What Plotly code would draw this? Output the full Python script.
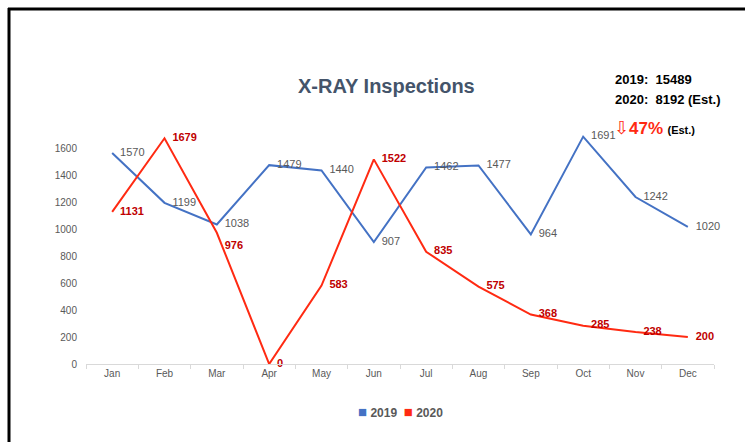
import plotly.graph_objects as go

months = ["Jan", "Feb", "Mar", "Apr", "May", "Jun", "Jul", "Aug", "Sep", "Oct", "Nov", "Dec"]
y2019 = [1570, 1199, 1038, 1479, 1440, 907, 1462, 1477, 964, 1691, 1242, 1020]
y2020 = [1131, 1679, 976, 0, 583, 1522, 835, 575, 368, 285, 238, 200]
ytick_vals = [0, 200, 400, 600, 800, 1000, 1200, 1400, 1600]
series_names = ["2019", "2020"]

BLUE = "#4472C4"
RED = "#FF2A12"
DARKRED = "#C00000"
GREY = "#595959"
FONT = "Liberation Sans, Arial, sans-serif"

pos2020 = ["middle right"] * len(months)
pos2020[2] = "bottom right"

fig = go.Figure()
fig.add_trace(go.Scatter(
    x=months, y=y2019, mode="lines+markers+text", name=series_names[0],
    line=dict(color=BLUE, width=2), marker=dict(size=11, opacity=0, color=BLUE),
    text=[str(v) for v in y2019],
    textposition="middle right", textfont=dict(color=GREY, size=11, family=FONT),
    showlegend=False, cliponaxis=False, hoverinfo="x+y"))
fig.add_trace(go.Scatter(
    x=months, y=y2020, mode="lines+markers+text", name=series_names[1],
    line=dict(color=RED, width=2), marker=dict(size=11, opacity=0, color=RED),
    text=["<b>%d</b>" % v for v in y2020],
    textposition=pos2020, textfont=dict(color=DARKRED, size=11, family=FONT),
    showlegend=False, cliponaxis=False, hoverinfo="x+y"))

W, H = 745, 442
L, R, T, B = 86, 31, 122, 78
pw, ph = W - L - R, H - T - B

def px(x):
    return (x - L) / pw

def py(y):
    return (H - B - y) / ph

fig.update_layout(
    width=W, height=H,
    margin=dict(l=L, r=R, t=T, b=B, autoexpand=False),
    paper_bgcolor="white", plot_bgcolor="white",
    font=dict(family=FONT, color=GREY),
    xaxis=dict(type="category", range=[-0.5, 11.5], showgrid=False, showline=True,
               linecolor="#D9D9D9", ticks="outside", ticklen=4, tickcolor="#D9D9D9",
               tickson="boundaries", tickfont=dict(size=10, color=GREY), fixedrange=True),
    yaxis=dict(range=[0, 1800], tickvals=ytick_vals, showgrid=False, zeroline=False,
               showline=False, tickfont=dict(size=10, color=GREY), ticklabelstandoff=8,
               fixedrange=True),
    showlegend=False,
)

# legend (square swatches)
fig.add_annotation(
    text=("<span style='color:%s;font-size:15px'>■</span> <b>%s</b>  "
          "<span style='color:%s;font-size:15px'>■</span> <b>%s</b>")
    % (BLUE, series_names[0], RED, series_names[1]),
    xref="paper", yref="paper", x=px(400), y=py(411), xanchor="center", yanchor="middle",
    showarrow=False, font=dict(size=12, color=GREY, family=FONT))

fig.add_annotation(text="<b>X-RAY Inspections</b>", xref="paper", yref="paper",
                   x=px(386), y=py(86), xanchor="center", yanchor="middle", showarrow=False,
                   font=dict(size=20, color="#44546A", family=FONT))
fig.add_annotation(text="<b>2019:  15489</b>", xref="paper", yref="paper",
                   x=px(613), y=py(79), xanchor="left", yanchor="middle", showarrow=False,
                   font=dict(size=13, color="black", family=FONT))
fig.add_annotation(text="<b>2020:  8192 (Est.)</b>", xref="paper", yref="paper",
                   x=px(613), y=py(99), xanchor="left", yanchor="middle", showarrow=False,
                   font=dict(size=13, color="black", family=FONT))
fig.add_annotation(text="<span style='color:#FF2A12;font-size:18px'>⇩</span><b><span style='color:#FF2A12;font-size:17px'>47%</span> <span style='font-size:11px'>(Est.)</span></b>",
                   xref="paper", yref="paper",
                   x=px(612), y=py(128), xanchor="left", yanchor="middle", showarrow=False,
                   font=dict(size=16, color="black", family=FONT))

# page frame
fig.add_shape(type="line", xref="paper", yref="paper", x0=px(9), x1=px(9), y0=py(8), y1=py(450),
              line=dict(color="black", width=3))
fig.add_shape(type="line", xref="paper", yref="paper", x0=px(8), x1=px(760), y0=py(9), y1=py(9),
              line=dict(color="black", width=3))

fig.write_html("out.html", config={"displayModeBar": False},
               post_script="document.body.style.margin='0px';")
